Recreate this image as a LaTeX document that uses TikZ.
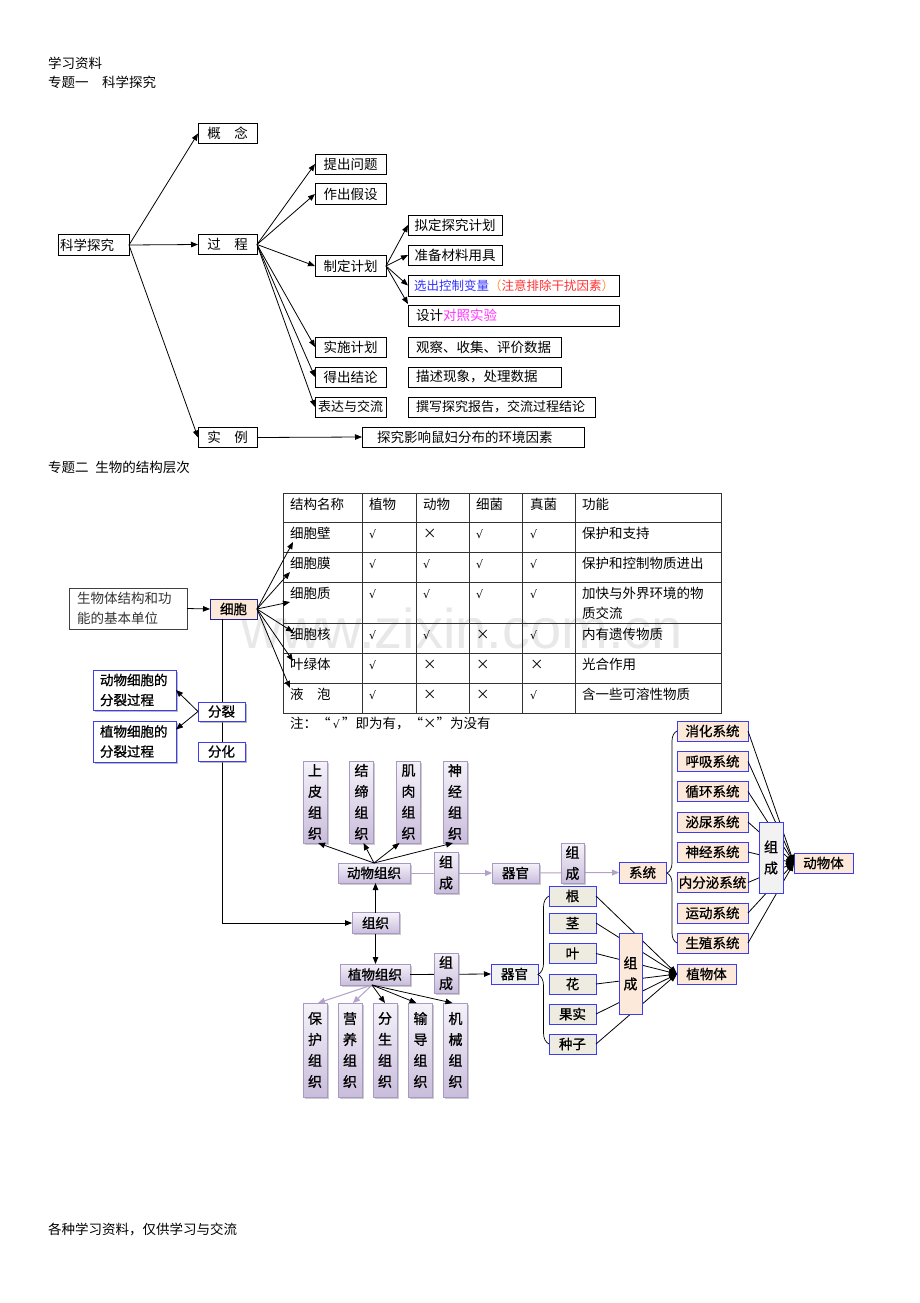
\documentclass[tikz,border=0pt]{standalone}
\usepackage{fontspec}
\setmainfont{Noto Sans CJK SC}
\newfontfamily\cjkb[FakeBold=1]{Noto Sans CJK SC}
\newfontfamily\wmfont{Liberation Sans}
\newfontfamily\djvfont{DejaVu Sans}
\newcommand\chkmark{{\djvfont\fontsize{11}{14}\selectfont √}}
\usetikzlibrary{arrows.meta,shadows,calc,decorations.pathreplacing}
\definecolor{bblue}{HTML}{3C3CF0}
\definecolor{peach}{HTML}{FDE9D9}
\definecolor{pborder}{HTML}{A898C4}
\definecolor{pline}{HTML}{B3A2C7}
\definecolor{ptop}{HTML}{F5F2F9}
\definecolor{pbot}{HTML}{C9BDDB}
\definecolor{organf}{HTML}{EEECE1}
\definecolor{lgray}{HTML}{F2F2F2}
\definecolor{selblue}{HTML}{3333FF}
\definecolor{selred}{HTML}{FF3333}
\definecolor{selorange}{HTML}{FF9933}
\definecolor{selmag}{HTML}{FF33FF}
\begin{document}
\begin{tikzpicture}[x=1pt,y=-1pt,
 every node/.style={inner sep=0pt,outer sep=0pt},
 f13/.style={font=\fontsize{13.5}{16}\selectfont},
 tbox/.style={draw,line width=0.8pt,f13},
 lbox/.style={draw,line width=0.8pt,f13,align=left,inner xsep=8pt},
 arr/.style={line width=0.8pt,-{Triangle[length=7pt,width=5.5pt]}},
 parr/.style={line width=1pt,draw=pline,-{Triangle[length=7pt,width=6pt,fill=pline]}},
 bfont/.style={font=\cjkb\fontsize{13.5}{16}\selectfont},
 bbox/.style={draw=bblue,line width=0.9pt,bfont},
 sbox/.style={bbox,fill=white,drop shadow={shadow xshift=2pt,shadow yshift=-2pt,fill=black!45,opacity=0.6}},
 pbox/.style={draw=pborder,line width=0.8pt,top color=ptop,bottom color=pbot,bfont,drop shadow={shadow xshift=1.5pt,shadow yshift=-1.5pt,fill=black!40,opacity=0.5}},
 vt/.style={align=center,font=\cjkb\fontsize{14}{21}\selectfont},
 tt/.style={font=\fontsize{13.5}{16}\selectfont,anchor=base west},
 brc/.style={decorate,line width=0.7pt},
]
\fill[white] (0,0) rectangle (920,1303);
\useasboundingbox (0,0) rectangle (920,1303);

% headers
\node[f13,anchor=base west] (h1) at (48,69) {学习资料};
\node[f13,anchor=base west] (h2) at (48,88) {专题一\hspace{1em}科学探究};
\node[f13,anchor=base west] (h3) at (48,472) {专题二\hspace{0.5em}生物的结构层次};
\node[f13,anchor=base west] (ft) at (48,1234) {各种学习资料，仅供学习与交流};

% ---------- part 1 ----------
\node[tbox,minimum width=71pt,minimum height=21pt,align=left,text width=67pt,inner xsep=2pt] (ks) at (93.5,245) {科学探究};
\node[tbox,minimum width=59pt,minimum height=20pt] (gn) at (227.5,133.5) {概\hspace{1em}念};
\node[tbox,minimum width=59pt,minimum height=20pt] (gc) at (227.5,244.5) {过\hspace{1em}程};
\node[tbox,minimum width=59pt,minimum height=20pt] (sl) at (227.5,437.5) {实\hspace{1em}例};

\node[tbox,minimum width=71pt,minimum height=20pt] (tc) at (350.5,164) {提出问题};
\node[tbox,minimum width=71pt,minimum height=21pt] (zs) at (350.5,194) {作出假设};
\node[tbox,minimum width=71pt,minimum height=21pt] (zd) at (350.5,266) {制定计划};
\node[tbox,minimum width=71pt,minimum height=20pt] (ss) at (350.5,347) {实施计划};
\node[tbox,minimum width=71pt,minimum height=20pt] (dc) at (350.5,377) {得出结论};
\node[tbox,minimum width=71pt,minimum height=20pt,font=\fontsize{13}{16}\selectfont] (bd) at (350.5,407) {表达与交流};

\node[tbox,minimum width=94pt,minimum height=20pt] (nd) at (455,225) {拟定探究计划};
\node[tbox,minimum width=94pt,minimum height=20pt] (zb) at (455,255) {准备材料用具};
\node[lbox,inner xsep=6pt,text width=199pt,minimum height=21pt,font=\fontsize{12.5}{16}\selectfont] (xc) at (513.5,285.5) {\textcolor{selblue}{选出控制变量}\textcolor{selorange}{（}\textcolor{selred}{注意排除干扰因素}\textcolor{selorange}{）}};
\node[lbox,text width=195pt,minimum height=21pt] (sj) at (513.5,315.5) {设计\textcolor{selmag}{对照实验}};
\node[lbox,text width=137pt,minimum height=20pt] (gcs) at (484.5,347) {观察、收集、评价数据};
\node[lbox,text width=137pt,minimum height=20pt] (ms) at (484.5,377) {描述现象，处理数据};
\node[lbox,text width=171pt,minimum height=20pt,font=\fontsize{13}{16}\selectfont] (zx) at (501.5,407) {撰写探究报告，交流过程结论};
\node[lbox,inner xsep=15pt,text width=192pt,minimum height=20pt] (tj) at (473,437) {探究影响鼠妇分布的环境因素};

\draw[arr] (ks.east) -- (gn.west);
\draw[arr] (ks.east) -- (gc.west);
\draw[arr] (ks.east) -- (sl.west);
\foreach \t in {tc,zs,zd,ss,dc,bd} \draw[arr] (gc.east) -- (\t.west);
\draw[arr] (zd.east) -- (nd.west);
\draw[arr] (zd.east) -- (zb.west);
\draw[arr] (zd.east) -- (xc.west);
\draw[arr] (zd.east) -- ($(sj.north west)+(0,-1)$);
\draw[arr] (sl.east) -- (tj.west);

% ---------- part 2: table ----------
\node[font=\wmfont\fontsize{56}{60}\selectfont,text=black!9,anchor=base] (wm) at (462,648) {www.zixin.com.cn};

\draw[line width=0.7pt,black!80] (283,493) rectangle (721,713);
\foreach \yy in {522,552,582,623,653,683} \draw[line width=0.7pt,black!80] (283,\yy) -- (721,\yy);
\foreach \xx in {362,416,469,522,575} \draw[line width=0.7pt,black!80] (\xx,493) -- (\xx,713);

\foreach \r/\yy/\ca/\cb/\cc/\cd/\ce/\cf in {
 1/493/结构名称/植物/动物/细菌/真菌/功能,
 2/522/细胞壁/\chkmark/×/\chkmark/\chkmark/保护和支持,
 3/552/细胞膜/\chkmark/\chkmark/\chkmark/\chkmark/保护和控制物质进出,
 4/582/细胞质/\chkmark/\chkmark/\chkmark/\chkmark/加快与外界环境的物,
 5/623/细胞核/\chkmark/\chkmark/×/\chkmark/内有遗传物质,
 6/653/叶绿体/\chkmark/×/×/×/光合作用,
 7/683/{液\hspace{1em}泡}/\chkmark/×/×/\chkmark/含一些可溶性物质}{
  \node[tt] (t\r a) at (290,\yy+16.5) {\ca};
  \node[tt] (t\r b) at (369,\yy+16.5) {\cb};
  \node[tt] (t\r c) at (423,\yy+16.5) {\cc};
  \node[tt] (t\r d) at (476,\yy+16.5) {\cd};
  \node[tt] (t\r e) at (530,\yy+16.5) {\ce};
  \node[tt] (t\r f) at (582,\yy+16.5) {\cf};
}
\node[tt] (t4g) at (582,618.5) {质交流};
\node[tt] (note) at (290,728) {注：“\,\chkmark\,”即为有，“×”为没有};

% ---------- cell ----------
\node[draw=black!75,line width=0.8pt,minimum width=118pt,minimum height=41pt,align=left,text width=102pt,inner xsep=8pt,font=\fontsize{13.5}{20}\selectfont,text=black!80] (jb) at (128,608.5) {生物体结构和功\\能的基本单位};
\node[bbox,fill=peach,draw=bblue!60!black,minimum width=47pt,minimum height=20pt] (xb) at (233.5,609) {细胞};
\draw[arr] (jb.east) -- (xb.west);

\coordinate (a1) at (293,542);
\coordinate (a2) at (290,572);
\coordinate (a3) at (290,602);
\coordinate (a4) at (293,632);
\coordinate (a5) at (293,661);
\coordinate (a6) at (290,688);
\foreach \i in {1,...,6} \draw[arr] (xb.east) -- (a\i);

\node[pbox,minimum width=47pt,minimum height=21pt] (zz) at (375.5,923) {组织};
\draw[line width=0.9pt,-{Triangle[length=7pt,width=5.5pt]}] ($(xb.south west)+(12,0)$) |- (zz.west);

\node[sbox,minimum width=47pt,minimum height=19pt] (fl) at (221.5,711.5) {分裂};
\node[sbox,minimum width=47pt,minimum height=19pt] (fh) at (221.5,751.5) {分化};
\node[sbox,minimum width=83pt,minimum height=40pt,align=left,text width=69pt,inner xsep=7pt,font=\cjkb\fontsize{13.5}{20}\selectfont] (dwc) at (134.5,690) {动物细胞的\\分裂过程};
\node[sbox,minimum width=83pt,minimum height=41pt,align=left,text width=69pt,inner xsep=7pt,font=\cjkb\fontsize{13.5}{20}\selectfont] (zwc) at (134.5,741.5) {植物细胞的\\分裂过程};
\draw[arr] (fl.west) -- (dwc.east);
\draw[arr] (fl.west) -- ($(zwc.east)+(0,-12)$);

% ---------- animal ----------
\node[pbox,minimum width=72pt,minimum height=20pt] (dz) at (374,873) {动物组织};
\draw[arr] (zz.north) -- (zz.north |- dz.south);

\node[pbox,vt,minimum width=24pt,minimum height=82pt] (sp) at (315,802) {上\\皮\\组\\织};
\node[pbox,vt,minimum width=24pt,minimum height=82pt] (jd) at (361.5,802) {结\\缔\\组\\织};
\node[pbox,vt,minimum width=24pt,minimum height=82pt] (jr) at (408.5,802) {肌\\肉\\组\\织};
\node[pbox,vt,minimum width=24pt,minimum height=82pt] (sjz) at (455,802) {神\\经\\组\\织};
\draw[arr] (dz.north) -- ($(sp.south)+(3,0)$);
\draw[arr] (dz.north) -- ($(jd.south)+(2,0)$);
\draw[arr] (dz.north) -- ($(jr.south west)+(3,0)$);
\draw[arr] (dz.north) -- ($(sjz.south)+(-2,0)$);

\node[pbox,minimum width=47pt,minimum height=20pt] (aq) at (515.5,873) {器官};
\node[bbox,fill=peach,minimum width=47pt,minimum height=21pt] (xt) at (642.5,872.5) {系统};
\draw[parr] (dz.east) -- (aq.west);
\draw[parr] (aq.east) -- (xt.west);
\node[pbox,vt,minimum width=24pt,minimum height=41pt] (zc1) at (446,872.5) {组\\成};
\node[pbox,vt,minimum width=23pt,minimum height=40pt] (zc2) at (572.5,863) {组\\成};

\foreach \i/\yy/\t in {1/731/消化系统,2/761.5/呼吸系统,3/791.5/循环系统,4/822/泌尿系统,5/852/神经系统,6/882.5/内分泌系统,7/913/运动系统,8/943/生殖系统}
  \node[bbox,fill=peach,minimum width=71pt,minimum height=20pt] (s\i) at (712.5,\yy) {\t};
\node[bbox,fill=peach,minimum width=59pt,minimum height=20pt] (dwt) at (823.5,863) {动物体};
\foreach \i in {1,...,8} \draw[line width=0.8pt,-{Triangle[length=8pt,width=6pt]}] (s\i.east) -- (dwt.west);
\node[bbox,fill=lgray,vt,minimum width=24pt,minimum height=71pt] (zc3) at (771,857.5) {组\\成};
\draw[brc,decoration={brace,amplitude=10pt,aspect=0.33}] (s8.west) -- (s1.west);

% ---------- plant ----------
\node[pbox,minimum width=70pt,minimum height=21pt] (zwz) at (375,974.5) {植物组织};
\draw[arr] (zz.south) -- (zz.south |- zwz.north);
\node[bbox,fill=lgray,minimum width=47pt,minimum height=20pt] (pq) at (514.5,974) {器官};
\draw[arr] (zwz.east) -- (pq.west);
\node[pbox,vt,minimum width=24pt,minimum height=40pt] (zc4) at (446,973) {组\\成};

\foreach \i/\yy/\t in {1/896/根,2/923/茎,3/953.5/叶,4/984/花,5/1014/果实,6/1044/种子}
  \node[bbox,fill=organf,minimum width=47pt,minimum height=20pt] (o\i) at (572.5,\yy) {\t};
\node[bbox,fill=peach,minimum width=59pt,minimum height=20pt] (zwt) at (706.5,974) {植物体};
\foreach \i in {1,...,6} \draw[line width=0.8pt,-{Triangle[length=8pt,width=6pt]}] (o\i.east) -- (zwt.west);
\node[bbox,fill=peach,vt,minimum width=23pt,minimum height=81pt] (zc5) at (630.5,973.5) {组\\成};
\draw[brc,decoration={brace,amplitude=11pt,aspect=0.47}] (o6.west) -- (o1.west);

\node[pbox,vt,minimum width=24pt,minimum height=94pt] (bh) at (315,1050) {保\\护\\组\\织};
\node[pbox,vt,minimum width=24pt,minimum height=94pt] (yy) at (350,1050) {营\\养\\组\\织};
\node[pbox,vt,minimum width=24pt,minimum height=94pt] (fs) at (385,1050) {分\\生\\组\\织};
\node[pbox,vt,minimum width=24pt,minimum height=94pt] (sd) at (420.5,1050) {输\\导\\组\\织};
\node[pbox,vt,minimum width=24pt,minimum height=94pt] (jx) at (455.5,1050) {机\\械\\组\\织};
\coordinate (po) at ($(zwz.south)+(-3,0)$);
\draw[parr] (po) -- ($(bh.north)+(3,0)$);
\draw[parr] (po) -- ($(yy.north)+(3,0)$);
\draw[arr] (po) -- (fs.north);
\draw[arr] (po) -- ($(sd.north)+(-4,0)$);
\draw[arr] (po) -- ($(jx.north)+(-3,0)$);
\end{tikzpicture}
\end{document}
